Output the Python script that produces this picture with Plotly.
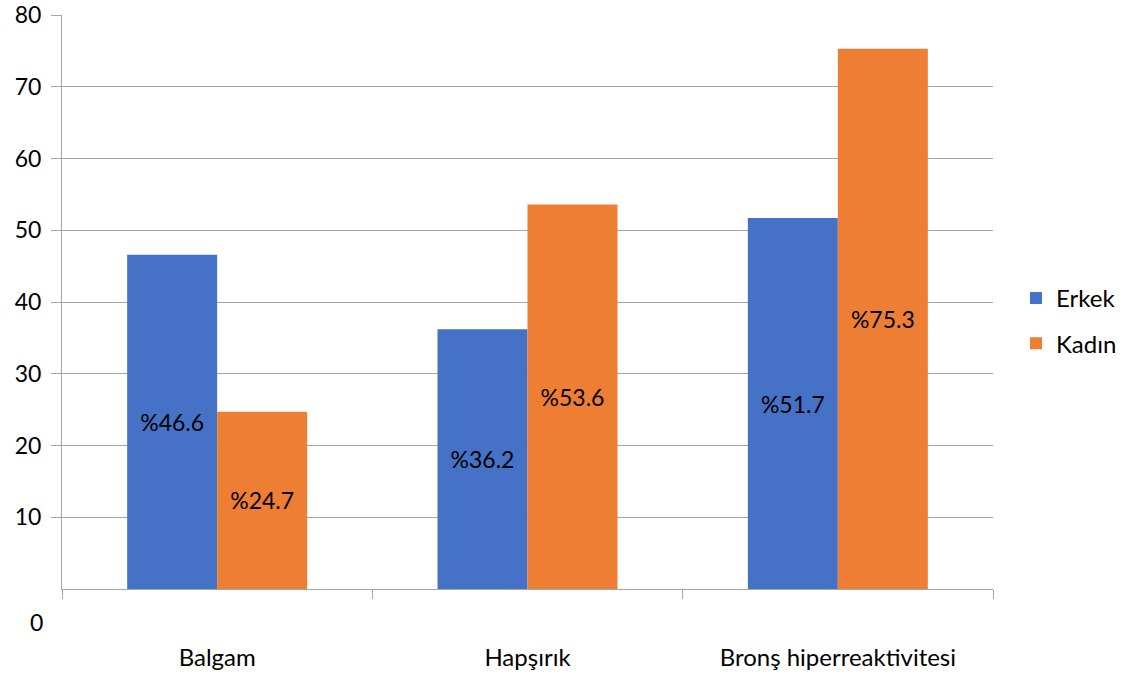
import plotly.graph_objects as go

categories = ["Balgam", "Hapşırık", "Bronş hiperreaktivitesi"]
erkek = [46.6, 36.2, 51.7]
kadin = [24.7, 53.6, 75.3]
y_ticks = [0, 10, 20, 30, 40, 50, 60, 70, 80]

FONT = "Lato, 'Open Sans', sans-serif"
BLUE = "#4572C6"
ORANGE = "#EE7E33"
GRID = "#A6A6A6"

fig = go.Figure()
for name, vals, color in [("Erkek", erkek, BLUE), ("Kadın", kadin, ORANGE)]:
    fig.add_trace(go.Bar(
        name=name, x=categories, y=vals, legendgroup=name,
        marker=dict(color=color, line=dict(width=0)),
        text=[f"%{v}" for v in vals],
        textposition="inside", insidetextanchor="middle",
        textfont=dict(family=FONT, size=23, color="black"),
        textangle=0,
    ))

fig.update_layout(
    width=1123, height=679,
    margin=dict(l=62, r=130, t=15, b=90, autoexpand=False),
    paper_bgcolor="white", plot_bgcolor="white",
    barmode="group", bargap=0.42, bargroupgap=0,
    font=dict(family=FONT, size=23, color="black"),
    legend=dict(x=1.0247, y=0.467, xanchor="left", yanchor="middle",
                font=dict(size=24), itemwidth=30, tracegroupgap=11,
                traceorder="grouped"),
    uniformtext=dict(mode=None),
)
fig.update_xaxes(
    type="category", showgrid=False, showline=True, linecolor=GRID, linewidth=1,
    ticks="outside", tickson="boundaries", ticklen=9, tickcolor=GRID,
    tickfont=dict(size=24), ticklabelstandoff=47, automargin=False,
)
fig.update_yaxes(
    range=[0, 80], tickvals=y_ticks[1:], showgrid=True, gridcolor=GRID, gridwidth=1,
    showline=True, linecolor=GRID, linewidth=1, zeroline=False,
    ticks="outside", ticklen=10, tickcolor=GRID, ticklabeloverflow="allow",
    tickfont=dict(size=23), ticklabelstandoff=5, automargin=False,
)
# the zero label sits below the baseline
fig.add_annotation(x=0, xref="paper", y=y_ticks[0], yref="y", text=str(y_ticks[0]),
                   showarrow=False, xanchor="right", xshift=-17, yshift=-33,
                   font=dict(size=23, family=FONT))

fig.write_html("out.html")
